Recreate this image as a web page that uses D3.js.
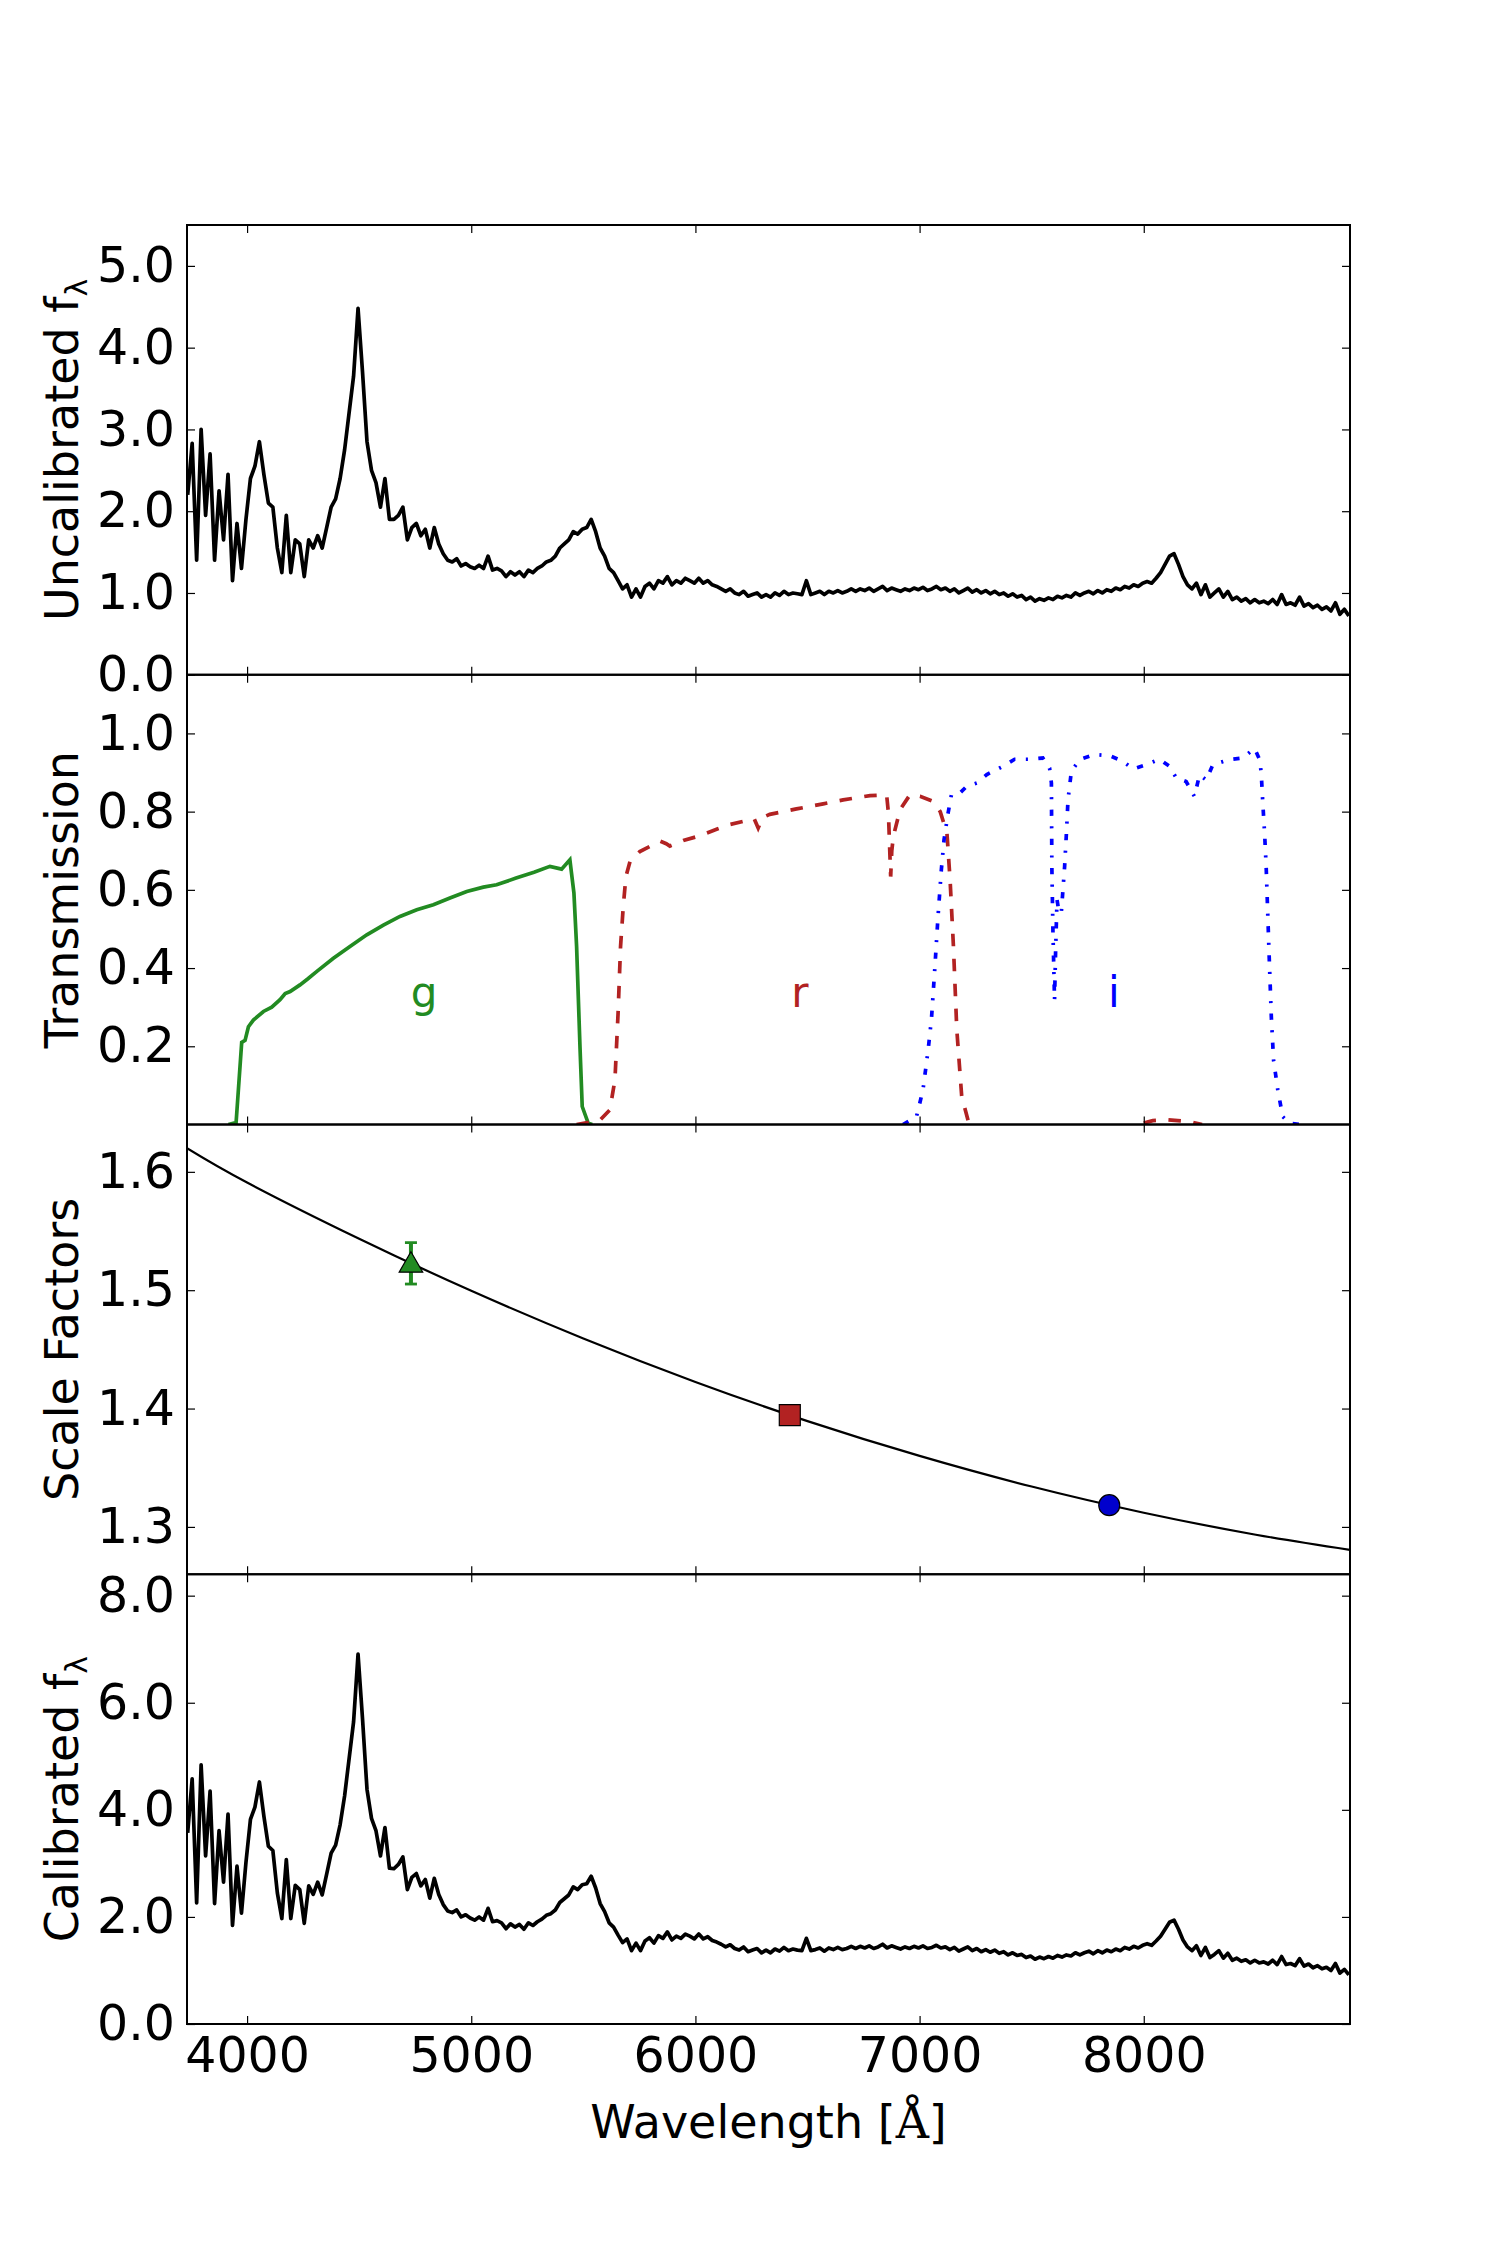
<!DOCTYPE html>
<html><head><meta charset="utf-8">
<script src="https://cdn.jsdelivr.net/npm/d3@7"></script>
<style>body{margin:0;background:#fff}svg{font-family:"DejaVu Sans",sans-serif}</style>
</head><body><svg id="chart" width="1500" height="2250"></svg>
<script>
// ---------- DATA ----------
const SPEC_START = 3735, SPEC_STEP = 20;
const uncalFlux = [
2.20,2.83,1.40,3.00,1.95,2.70,1.40,2.25,1.65,2.45,
1.15,1.85,1.30,1.90,2.40,2.55,2.85,2.45,2.10,2.05,
1.55,1.25,1.95,1.25,1.65,1.60,1.20,1.65,1.55,1.70,
1.55,1.80,2.05,2.15,2.40,2.75,3.20,3.65,4.48,3.70,
2.85,2.50,2.35,2.05,2.40,1.90,1.90,1.95,2.05,1.65,
1.80,1.85,1.70,1.78,1.55,1.80,1.60,1.48,1.40,1.38,
1.42,1.33,1.36,1.32,1.30,1.34,1.30,1.45,1.28,1.30,
1.27,1.20,1.26,1.22,1.26,1.20,1.28,1.25,1.30,1.33,
1.38,1.40,1.45,1.55,1.60,1.65,1.75,1.72,1.78,1.80,
1.90,1.75,1.55,1.45,1.30,1.25,1.15,1.05,1.10,0.95,
1.05,0.95,1.08,1.12,1.05,1.15,1.12,1.20,1.10,1.15,
1.12,1.18,1.15,1.12,1.18,1.12,1.15,1.10,1.08,1.05,
1.02,1.05,1.00,0.98,1.02,0.96,0.98,1.00,0.95,0.98,
0.95,1.00,0.97,1.02,0.98,1.00,0.99,0.98,1.15,0.98,
1.00,1.02,0.98,1.02,1.00,1.03,1.00,1.02,1.05,1.02,
1.05,1.03,1.06,1.02,1.05,1.08,1.03,1.06,1.04,1.02,
1.05,1.03,1.06,1.04,1.07,1.03,1.05,1.08,1.04,1.06,
1.02,1.05,1.00,1.03,1.06,1.01,1.04,1.00,1.03,0.99,
1.02,0.98,1.00,0.96,0.99,0.95,0.97,0.92,0.95,0.90,
0.93,0.91,0.94,0.92,0.96,0.94,0.97,0.95,1.00,0.97,
1.00,1.02,0.99,1.03,1.00,1.04,1.02,1.06,1.04,1.08,
1.06,1.10,1.08,1.12,1.14,1.12,1.18,1.25,1.35,1.45,
1.48,1.35,1.20,1.10,1.05,1.12,0.98,1.10,0.95,1.00,
1.05,0.95,1.02,0.92,0.95,0.90,0.93,0.88,0.92,0.88,
0.90,0.87,0.92,0.86,0.98,0.86,0.88,0.85,0.95,0.84,
0.87,0.82,0.85,0.80,0.83,0.78,0.88,0.74,0.80,0.72];
const calFlux = [
3.57,4.58,2.26,4.84,3.14,4.35,2.25,3.61,2.65,3.92,
1.84,2.95,2.07,3.02,3.82,4.05,4.52,3.88,3.32,3.24,
2.45,1.97,3.07,1.97,2.59,2.51,1.88,2.58,2.42,2.65,
2.41,2.80,3.19,3.34,3.72,4.26,4.95,5.64,6.91,5.70,
4.38,3.84,3.61,3.14,3.67,2.91,2.90,2.98,3.12,2.51,
2.74,2.81,2.58,2.70,2.35,2.72,2.42,2.23,2.11,2.08,
2.13,2.00,2.04,1.98,1.94,2.00,1.94,2.16,1.91,1.93,
1.89,1.78,1.87,1.81,1.86,1.77,1.89,1.84,1.91,1.96,
2.03,2.06,2.13,2.27,2.34,2.41,2.56,2.51,2.60,2.62,
2.76,2.54,2.25,2.10,1.89,1.81,1.66,1.52,1.59,1.37,
1.51,1.37,1.55,1.61,1.51,1.65,1.60,1.72,1.57,1.64,
1.60,1.68,1.64,1.59,1.68,1.59,1.63,1.56,1.53,1.49,
1.44,1.48,1.41,1.38,1.44,1.35,1.38,1.41,1.33,1.38,
1.33,1.40,1.36,1.43,1.37,1.40,1.38,1.37,1.60,1.37,
1.39,1.42,1.36,1.42,1.39,1.43,1.39,1.41,1.45,1.41,
1.45,1.42,1.46,1.41,1.44,1.49,1.42,1.46,1.43,1.40,
1.44,1.41,1.45,1.42,1.46,1.41,1.43,1.47,1.42,1.44,
1.39,1.43,1.36,1.40,1.44,1.37,1.41,1.35,1.39,1.34,
1.38,1.32,1.35,1.29,1.33,1.28,1.30,1.24,1.27,1.21,
1.25,1.22,1.26,1.23,1.28,1.25,1.29,1.27,1.33,1.29,
1.33,1.36,1.31,1.37,1.33,1.38,1.35,1.40,1.37,1.43,
1.40,1.45,1.42,1.47,1.50,1.47,1.55,1.64,1.77,1.90,
1.94,1.77,1.57,1.44,1.37,1.46,1.28,1.43,1.24,1.30,
1.37,1.23,1.32,1.19,1.23,1.17,1.20,1.14,1.19,1.14,
1.16,1.12,1.19,1.11,1.26,1.11,1.13,1.09,1.22,1.08,
1.12,1.05,1.09,1.03,1.06,1.00,1.13,0.95,1.02,0.92];

const gWave  = [3917,3951,3976,3991,4006,4028,4073,4110,4147,4170,4192,4236,4270,4310,4385,4459,4534,4608,4682,4757,4831,4905,4980,5054,5113,5200,5280,5351,5403,5440,5458,5470,5485,5495,5522,5540];
const gTrans = [0,0.005,0.21,0.215,0.25,0.267,0.289,0.300,0.319,0.335,0.340,0.357,0.372,0.391,0.425,0.455,0.485,0.510,0.532,0.549,0.562,0.579,0.596,0.607,0.613,0.630,0.645,0.660,0.653,0.677,0.592,0.455,0.199,0.046,0.003,0];
const rWave  = [5470,5574,5618,5641,5655,5666,5678,5690,5708,5752,5800,5841,5870,5886,5946,6000,6050,6100,6154,6243,6262,6280,6300,6332,6451,6570,6659,6779,6853,6861,6871,6876,6883,6913,6957,7002,7061,7092,7122,7136,7151,7166,7188,7218,7255,null,8000,8040,8100,8200,8260];
const rTrans = [0,0.011,0.037,0.114,0.285,0.455,0.557,0.634,0.672,0.698,0.712,0.725,0.718,0.712,0.726,0.735,0.745,0.756,0.767,0.779,0.782,0.758,0.785,0.793,0.807,0.820,0.830,0.841,0.843,0.796,0.634,0.700,0.737,0.805,0.843,0.839,0.826,0.800,0.745,0.626,0.455,0.242,0.071,0.007,0,null,0.004,0.010,0.012,0.008,0];
const iWave  = [6926,6986,7015,7038,7053,7068,7082,7097,7109,7127,7142,7179,7209,7255,7300,7372,7424,7491,7550,7580,7588,7590,7595,7602,7607,7613,7620,7632,7647,7655,7662,7677,7714,7781,7848,7907,7952,8011,8070,8115,8145,8189,8226,8249,8279,8308,8382,8442,8494,8517,8524,8531,8539,8546,8554,8561,8569,8579,8598,8620,8650,8700];
const iTrans = [0,0.02,0.088,0.19,0.27,0.40,0.53,0.651,0.728,0.796,0.843,0.847,0.864,0.873,0.895,0.916,0.934,0.934,0.937,0.911,0.873,0.66,0.49,0.318,0.45,0.575,0.55,0.54,0.66,0.745,0.83,0.903,0.933,0.946,0.943,0.929,0.909,0.920,0.934,0.916,0.886,0.877,0.839,0.894,0.881,0.920,0.933,0.937,0.962,0.933,0.899,0.822,0.745,0.66,0.523,0.404,0.276,0.165,0.088,0.020,0.003,0];

const bandNames  = ["g","r","i"];
const bandColors = ["#228b22","#b22222","#0000cd"];
const bandLabelWave = [4790,6466,7867];
const bandLabelY = 0.3;
const bandWave  = [4731,6421,7846];
const bandScale = [1.5227,1.3944,1.3184];
const bandErr   = [0.0175,0.004,0.004];

const fitWave  = [3732,4000,4500,5000,5500,6000,6500,7000,7500,8000,8500,8920];
const fitScale = [1.620,1.591,1.5435,1.4995,1.4592,1.4225,1.3894,1.3600,1.3341,1.3120,1.2934,1.2806];

const xTicks = [4000,5000,6000,7000,8000];
const uncalTicks = [0,1,2,3,4,5];
const transTicks = [0.2,0.4,0.6,0.8,1.0];
const scaleTicks = [1.3,1.4,1.5,1.6];
const calTicks = [0,2,4,6,8];

// ---------- LAYOUT ----------
const svg = d3.select("#chart");
const L = 187, R = 1350, TOP = 225, PH = 449.75;
const x = d3.scaleLinear().domain([3732, 8920]).range([L, R]);
const TICK_FS = 49, LABEL_FS = 46;

const panels = [
  {id:"p1", domain:[0,5.5], ticks:uncalTicks, label:"Uncalibrated f", sub:"λ"},
  {id:"p2", domain:[0,1.15], ticks:transTicks, label:"Transmission", sub:null},
  {id:"p3", domain:[1.26,1.64], ticks:scaleTicks, label:"Scale Factors", sub:null},
  {id:"p4", domain:[0,8.4], ticks:calTicks, label:"Calibrated f", sub:"λ"}
];

const defs = svg.append("defs");
panels.forEach((p, k) => {
  p.top = TOP + k * PH; p.bottom = p.top + PH;
  p.y = d3.scaleLinear().domain(p.domain).range([p.bottom, p.top]);
  defs.append("clipPath").attr("id", "clip-" + p.id)
    .append("rect").attr("x", L).attr("y", p.top).attr("width", R - L).attr("height", PH);
  p.g = svg.append("g");
  p.plot = p.g.append("g").attr("clip-path", `url(#clip-${p.id})`);
});

const specWave = uncalFlux.map((_, i) => SPEC_START + i * SPEC_STEP);

function series(xs, ys) { return xs.map((w, i) => ({w, v: ys[i]})); }
function lineGen(p, curve) {
  return d3.line().defined(d => d.w !== null && d.v !== null)
    .x(d => x(d.w)).y(d => p.y(d.v)).curve(curve || d3.curveLinear);
}

// Panel 1: uncalibrated spectrum
panels[0].plot.append("path").datum(series(specWave, uncalFlux))
  .attr("d", lineGen(panels[0])).attr("fill", "none").attr("stroke", "#000")
  .attr("stroke-width", 3.7).attr("stroke-linejoin", "round");

// Panel 2: filters
const p2 = panels[1];
p2.plot.append("path").datum(series(gWave, gTrans)).attr("d", lineGen(p2))
  .attr("fill","none").attr("stroke", bandColors[0]).attr("stroke-width", 3.7);
p2.plot.append("path").datum(series(rWave, rTrans)).attr("d", lineGen(p2))
  .attr("fill","none").attr("stroke", bandColors[1]).attr("stroke-width", 3.7)
  .attr("stroke-dasharray", "12.5,12.5");
p2.plot.append("path").datum(series(iWave, iTrans)).attr("d", lineGen(p2))
  .attr("fill","none").attr("stroke", "#0000ff").attr("stroke-width", 3.7)
  .attr("stroke-dasharray", "6.25,10.4,2.1,10.4");
bandNames.forEach((n, i) => {
  p2.g.append("text").attr("x", x(bandLabelWave[i])).attr("y", p2.y(bandLabelY))
    .attr("text-anchor", "middle").attr("fill", i === 2 ? "#0000ff" : bandColors[i])
    .style("font-size", "42px").text(n);
});

// Panel 3: scale factors
const p3 = panels[2];
p3.plot.append("path").datum(series(fitWave, fitScale)).attr("d", lineGen(p3, d3.curveNatural))
  .attr("fill","none").attr("stroke","#000").attr("stroke-width", 2.2);
bandWave.forEach((w, i) => {
  const cx = x(w);
  const y1 = p3.y(bandScale[i] + bandErr[i]), y2 = p3.y(bandScale[i] - bandErr[i]);
  p3.plot.append("line").attr("x1", cx).attr("x2", cx).attr("y1", y1).attr("y2", y2)
    .attr("stroke", bandColors[i]).attr("stroke-width", 4);
  [y1, y2].forEach(yy => p3.plot.append("line").attr("x1", cx - 6).attr("x2", cx + 6)
    .attr("y1", yy).attr("y2", yy).attr("stroke", bandColors[i]).attr("stroke-width", 2.8));
});
const symTypes = [d3.symbolTriangle, d3.symbolSquare, d3.symbolCircle];
const symSizes = [240, 441, 346];
bandWave.forEach((w, i) => {
  const cy = p3.y(bandScale[i]);
  p3.plot.append("path")
    .attr("d", d3.symbol().type(symTypes[i]).size(symSizes[i])())
    .attr("transform", `translate(${x(w)},${cy + (i === 0 ? 2 : 0)})`)
    .attr("fill", bandColors[i]).attr("stroke", "#000").attr("stroke-width", 1.2);
});

// Panel 4: calibrated spectrum
panels[3].plot.append("path").datum(series(specWave, calFlux))
  .attr("d", lineGen(panels[3])).attr("fill", "none").attr("stroke", "#000")
  .attr("stroke-width", 3.7).attr("stroke-linejoin", "round");

// ---------- AXES ----------
const fmt = d3.format(".1f");
panels.forEach((p, k) => {
  const last = k === panels.length - 1;
  const left = p.g.append("g").attr("transform", `translate(${L},0)`)
    .call(d3.axisLeft(p.y).tickValues(p.ticks).tickSize(-8).tickPadding(12).tickFormat(fmt));
  const right = p.g.append("g").attr("transform", `translate(${R},0)`)
    .call(d3.axisRight(p.y).tickValues(p.ticks).tickSize(-8).tickFormat(""));
  const top = p.g.append("g").attr("transform", `translate(0,${p.top})`)
    .call(d3.axisTop(x).tickValues(xTicks).tickSize(-8).tickFormat(""));
  const bottom = p.g.append("g").attr("transform", `translate(0,${p.bottom})`)
    .call(d3.axisBottom(x).tickValues(xTicks).tickSize(-8).tickPadding(13)
      .tickFormat(last ? d3.format("d") : ""));
  [left, right, top, bottom].forEach(a => {
    a.select(".domain").remove();
    a.selectAll(".tick line").attr("stroke", "#000").attr("stroke-width", 1.2);
    a.selectAll("text").style("font-size", TICK_FS + "px").attr("fill", "#000")
      .style("font-family", "'DejaVu Sans', sans-serif");
  });
  p.g.append("rect").attr("x", L).attr("y", p.top).attr("width", R - L).attr("height", PH)
    .attr("fill", "none").attr("stroke", "#000").attr("stroke-width", 2);
  const cy = (p.top + p.bottom) / 2;
  const t = p.g.append("text").attr("transform", `translate(78,${cy}) rotate(-90)`)
    .attr("text-anchor", "middle").style("font-size", LABEL_FS + "px").attr("fill", "#000");
  t.append("tspan").text(p.label);
  if (p.sub) t.append("tspan").attr("dy", 9).style("font-size", "30px").text(p.sub);
});

// x label
const xl = svg.append("text").attr("x", (L + R) / 2).attr("y", 2138)
  .attr("text-anchor", "middle").style("font-size", LABEL_FS + "px");
xl.append("tspan").text("Wavelength [");
xl.append("tspan").style("font-family", "'DejaVu Serif', serif").text("Å");
xl.append("tspan").text("]");
</script>
</body></html>
